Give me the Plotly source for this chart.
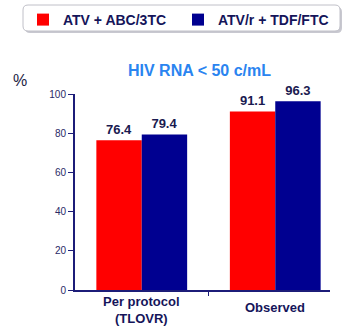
import plotly.graph_objects as go

categories = ["Per protocol<br>(TLOVR)", "Observed"]
series_names = ["ATV + ABC/3TC", "ATV/r + TDF/FTC"]
atv_abc = [76.4, 91.1]
atv_tdf = [79.4, 96.3]
y_ticks = [0, 20, 40, 60, 80, 100]

W, H = 350, 335
L, R, T, B = 75, 20, 94, 45
pw, ph = W - L - R, H - T - B

def px(x):
    return (x - L) / pw

def py(y):
    return (H - B - y) / ph

navy = "#1c1c78"
label_col = "#1a1a50"
font = "Liberation Sans, Arial, sans-serif"
xpos = list(range(len(categories)))

fig = go.Figure()
fig.add_bar(x=xpos, y=atv_abc, name=f"<b>{series_names[0]}</b>", marker_color="#ff0000",
            marker_line_width=0, text=[f"<b>{v:.1f}</b>" for v in atv_abc],
            textposition="outside", cliponaxis=False,
            textfont=dict(family=font, size=13, color=label_col))
fig.add_bar(x=xpos, y=atv_tdf, name=f"<b>{series_names[1]}</b>", marker_color="#000090",
            marker_line_width=0, text=[f"<b>{v:.1f}</b>" for v in atv_tdf],
            textposition="outside", cliponaxis=False,
            textfont=dict(family=font, size=13, color=label_col))

def rrect(x0, y0, x1, y1, r):
    return (f"M{px(x0+r)},{py(y0)} L{px(x1-r)},{py(y0)} Q{px(x1)},{py(y0)} {px(x1)},{py(y0+r)} "
            f"L{px(x1)},{py(y1-r)} Q{px(x1)},{py(y1)} {px(x1-r)},{py(y1)} "
            f"L{px(x0+r)},{py(y1)} Q{px(x0)},{py(y1)} {px(x0)},{py(y1-r)} "
            f"L{px(x0)},{py(y0+r)} Q{px(x0)},{py(y0)} {px(x0+r)},{py(y0)} Z")

fig.add_shape(type="path", xref="paper", yref="paper", path=rrect(25, 7, 342, 33, 5),
              fillcolor="#c8c8d0", line_width=0, layer="below")
fig.add_shape(type="path", xref="paper", yref="paper", path=rrect(23, 5, 340, 31, 5),
              fillcolor="white", line=dict(color="#c0c0c8", width=1), layer="below")

fig.add_annotation(text="<b>HIV RNA < 50 c/mL</b>", xref="paper", yref="paper",
                   x=px(199), y=py(70), yanchor="middle", xanchor="center", showarrow=False,
                   font=dict(family=font, size=16, color="#2a84f0"))
fig.add_annotation(text="%", xref="paper", yref="paper", x=px(20), y=py(80),
                   yanchor="middle", xanchor="center",
                   showarrow=False, font=dict(family=font, size=16, color="#222244"))
cat_lines = [c.split("<br>") for c in categories]
for i, lines in enumerate(cat_lines):
    txt = "<br>".join(f"<b>{s}</b>" for s in lines)
    fig.add_annotation(text=txt, x=xpos[i], xref="x", yref="paper",
                       y=py(310 if i == 0 else 307), yanchor="middle", showarrow=False,
                       font=dict(family=font, size=13, color="#15155a"))

fig.update_layout(
    width=W, height=H, margin=dict(l=L, r=R, t=T, b=B, autoexpand=False),
    paper_bgcolor="white", plot_bgcolor="white",
    barmode="group", bargap=0.32, bargroupgap=0,
    showlegend=True,
    legend=dict(orientation="h", x=px(23), y=py(4), xanchor="left", yanchor="top",
                bgcolor="rgba(0,0,0,0)", font=dict(family=font, size=14, color="#15155a"),
                itemclick=False, traceorder="normal", entrywidth=110, itemwidth=30),
    font=dict(family=font),
)
fig.update_xaxes(range=[-0.5, 1.41], tickvals=[], showline=True, linecolor=navy,
                 linewidth=2, zeroline=False, showgrid=False,
                 minor=dict(tickvals=[0.5], ticks="outside", ticklen=4, tickcolor=navy, tickwidth=1))
fig.update_yaxes(range=[0, 100], tickvals=y_ticks, showline=True, linecolor=navy, linewidth=2,
                 ticks="outside", ticklen=5, tickcolor=navy, showgrid=False, zeroline=False,
                 tickfont=dict(family=font, size=10, color="#2a2a66"))

fig.write_html("out.html")
